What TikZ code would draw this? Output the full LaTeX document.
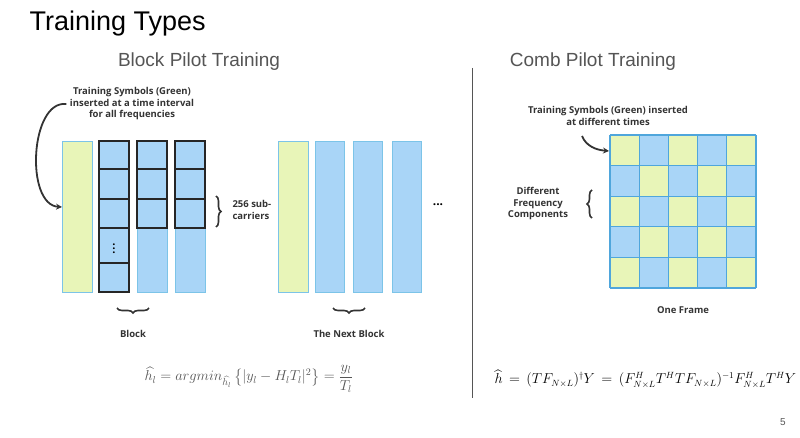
\documentclass[tikz,border=0pt]{standalone}
\usepackage{fontspec}
\setmainfont{Open Sans}
\newfontfamily\arialf{Liberation Sans}
\usepackage{amsmath}
\usetikzlibrary{arrows.meta,decorations.pathreplacing}
\definecolor{gfill}{HTML}{E8F5B8}
\definecolor{bfill}{HTML}{A9D5F7}
\definecolor{lborder}{HTML}{7CC4E8}
\definecolor{gridc}{HTML}{4FA6DC}
\definecolor{graytxt}{HTML}{555555}
\begin{document}
\begin{tikzpicture}[x=1pt,y=-1pt,
  lbl/.style={font=\fontsize{9.5}{11.5}\selectfont\bfseries,text=black!80,align=center},
  gcol/.style={fill=gfill,draw=lborder,line width=0.6pt},
  bcol/.style={fill=bfill,draw=lborder,line width=0.6pt},
  cell/.style={fill=bfill,draw=black!85,line width=1.1pt},
  arr/.style={-{Stealth[length=6pt,width=6pt]},line width=1.8pt,black!80},
  brc/.style={decorate,decoration={brace,amplitude=5pt},line width=1.6pt,black!80}]
\useasboundingbox (0,0) rectangle (800,438);
\node[anchor=west,font=\arialf\fontsize{27}{30}\selectfont] (title) at (26,24) {Training Types};
\node[font=\arialf\fontsize{19}{22}\selectfont,text=graytxt] (bt) at (199,62) {Block Pilot Training};
\node[font=\arialf\fontsize{19}{22}\selectfont,text=graytxt] (ct) at (593,62) {Comb Pilot Training};
\draw[graytxt,line width=0.8pt] (472,68) -- (472,398);
% block 1
\draw[gcol] (62,141) rectangle (92,292);
\coordinate (gin) at (62,207);
\draw[bcol] (99,228) rectangle (129,263);
\draw[black!85,line width=1.1pt] (99,228) -- (99,263) (129,228) -- (129,263);
\foreach \y/\h in {141/169,169/199,199/228,263/292} \draw[cell] (99,\y) rectangle (129,\h);
\node[font=\bfseries\fontsize{11}{11}\selectfont] (vd) at (114,246) {$\vdots$};
\foreach \x in {137,175}{
  \draw[bcol] (\x,228) rectangle (\x+30,292);
  \foreach \y/\h in {141/169,169/199,199/228} \draw[cell] (\x,\y) rectangle (\x+30,\h);
}
% block 2
\draw[gcol] (278,141) rectangle (308,292);
\foreach \x in {315,353,392} \draw[bcol] (\x,141) rectangle (\x+29,292);
\node[font=\bfseries\fontsize{12}{12}\selectfont] (dots) at (438,205) {...};
\draw[brc] (216,196) -- (216,227);
\node[lbl,align=left,anchor=west] (sub) at (229,210) {256 sub-\\carriers};
\draw[brc] (149,308) -- (117,308);
\node[lbl] (blk) at (133,334) {Block};
\draw[brc] (365,308) -- (333,308);
\node[lbl] (nblk) at (349,334) {The Next Block};
\node[lbl] (ts1) at (132,104) {Training Symbols (Green)\\inserted at a time interval\\for all frequencies};
\draw[arr] (ts1.west) .. controls (30,100) and (25,205) .. (gin);
% comb
\foreach \i in {0,...,4} \foreach \j in {0,...,4}{
  \pgfmathtruncatemacro{\p}{mod(\i+\j,2)}
  \ifnum\p=0 \def\cc{gfill}\else\def\cc{bfill}\fi
  \fill[\cc] (610+29.2*\i,135+30.6*\j) rectangle ++(29.2,30.6);
}
\foreach \k in {0,...,5}{
  \draw[gridc,line width=1.2pt] (610+29.2*\k,135) -- (610+29.2*\k,288);
  \draw[gridc,line width=1.2pt] (610,135+30.6*\k) -- (756,135+30.6*\k);
}
\coordinate (cin) at (609,151);
\node[lbl] (ts2) at (608,116) {Training Symbols (Green) inserted\\at different times};
\draw[arr] (582,136) .. controls (586,146) and (596,150) .. (cin);
\draw[brc] (592,218) -- (592,190);
\node[lbl] (dfc) at (538,204) {Different\\Frequency\\Components};
\node[lbl] (of) at (683,310) {One Frame};
% formulas
\node[font=\fontsize{14}{14}\selectfont,text=graytxt,anchor=west] (f1) at (141,379) {$\widehat{h_l}=argmin_{\widehat{h_l}}\left\{|y_l-H_lT_l|^2\right\}=\dfrac{y_l}{T_l}$};
\node[font=\fontsize{13.5}{13.5}\selectfont,anchor=west] (f2) at (491,379) {$\widehat{h}\,=\,(TF_{N\times L})^{\dagger}Y\,=\,(F^{H}_{N\times L}T^{H}TF_{N\times L})^{-1}F^{H}_{N\times L}T^{H}Y$};
\node[font=\arialf\fontsize{10}{10}\selectfont,text=graytxt] (pg) at (783,422) {5};
\end{tikzpicture}
\end{document}
